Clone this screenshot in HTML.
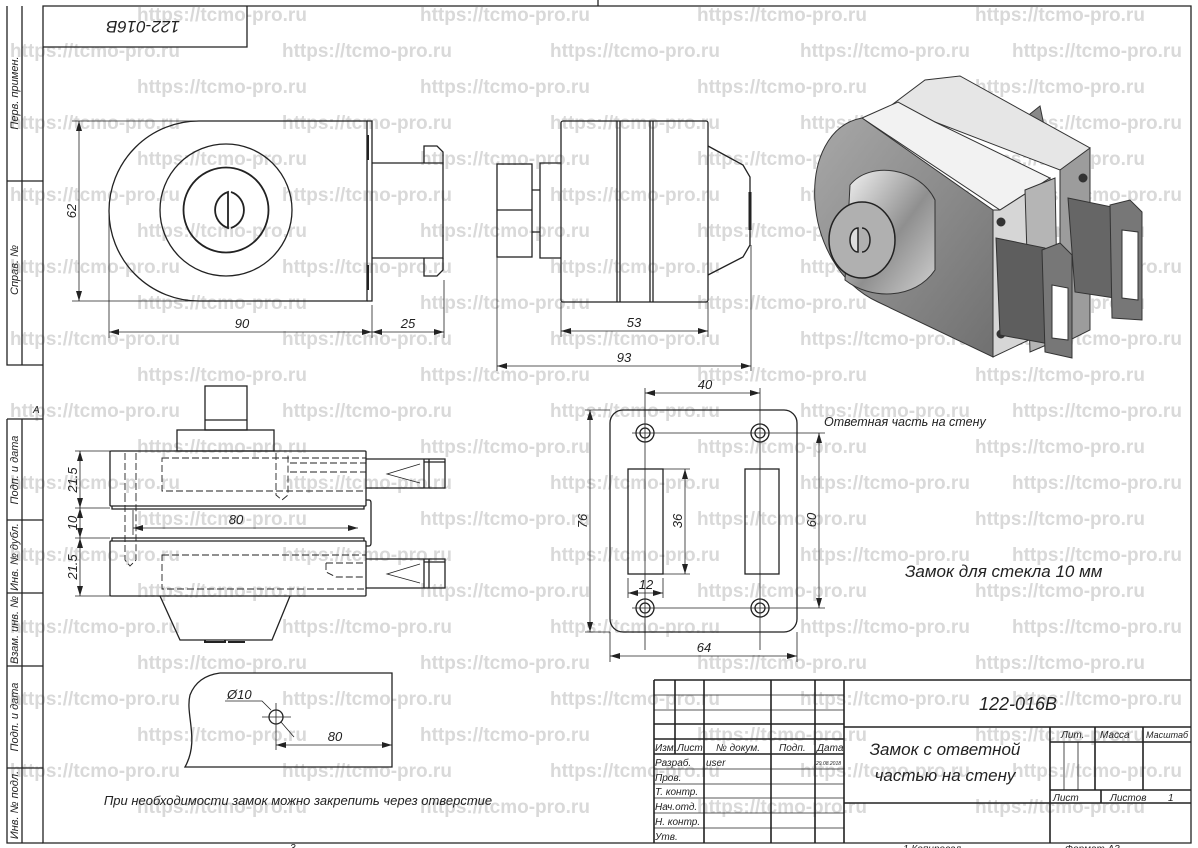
<!DOCTYPE html>
<html><head><meta charset="utf-8"><style>
html,body{margin:0;padding:0;background:#fff;}
svg{display:block;}
.t{font-family:"Liberation Sans","DejaVu Sans",sans-serif;font-style:italic;fill:#222;}
.wm{font-family:"Liberation Sans",sans-serif;font-weight:bold;font-size:19px;fill:#d9d9d9;}
</style></head><body>
<svg width="1198" height="848" viewBox="0 0 1198 848" xmlns="http://www.w3.org/2000/svg">
<defs>
<marker id="a" viewBox="0 0 10 6" markerWidth="10" markerHeight="6" refX="10" refY="3" orient="auto-start-reverse" markerUnits="userSpaceOnUse"><path d="M0,0 L10,3 L0,6 z" fill="#222"/></marker>
<linearGradient id="cone" x1="0" y1="0" x2="1" y2="1"><stop offset="0" stop-color="#f4f4f4"/><stop offset="0.55" stop-color="#8f8f8f"/><stop offset="1" stop-color="#d0d0d0"/></linearGradient>
<linearGradient id="face" x1="0" y1="0" x2="1" y2="1"><stop offset="0" stop-color="#a8a8a8"/><stop offset="1" stop-color="#707070"/></linearGradient>
</defs>

<!-- watermarks -->
<g class="wm">
<g id="ev"><text x="137" y="21">https://tcmo-pro.ru</text><text x="420" y="21">https://tcmo-pro.ru</text><text x="697" y="21">https://tcmo-pro.ru</text><text x="975" y="21">https://tcmo-pro.ru</text></g>
<g id="od"><text x="10" y="57">https://tcmo-pro.ru</text><text x="282" y="57">https://tcmo-pro.ru</text><text x="550" y="57">https://tcmo-pro.ru</text><text x="800" y="57">https://tcmo-pro.ru</text><text x="1012" y="57">https://tcmo-pro.ru</text></g>
<use href="#ev" y="72"/><use href="#ev" y="144"/><use href="#ev" y="216"/><use href="#ev" y="288"/><use href="#ev" y="360"/><use href="#ev" y="432"/><use href="#ev" y="504"/><use href="#ev" y="576"/><use href="#ev" y="648"/><use href="#ev" y="720"/><use href="#ev" y="792"/>
<use href="#od" y="72"/><use href="#od" y="144"/><use href="#od" y="216"/><use href="#od" y="288"/><use href="#od" y="360"/><use href="#od" y="432"/><use href="#od" y="504"/><use href="#od" y="576"/><use href="#od" y="648"/><use href="#od" y="720"/>
</g>

<g fill="none" stroke="#222" stroke-width="1.3">
<path d="M43 6 H1191 V843 H43 Z"/>
<line x1="598" y1="0" x2="598" y2="6"/>
<path d="M7 6 V365 H43 M22 6 V365 M7 181 H43"/>
<path d="M7 419 V843 H43 M22 419 V843 M7 419 H43 M7 520 H43 M7 593 H43 M7 666 H43 M7 768 H43"/>
<path d="M43 47 H247 V6"/>
</g>
<g class="t" font-size="11">
<text transform="translate(18,93) rotate(-90)" text-anchor="middle">Перв. примен.</text>
<text transform="translate(18,270) rotate(-90)" text-anchor="middle">Справ. №</text>
<text transform="translate(18,470) rotate(-90)" text-anchor="middle">Подп. и дата</text>
<text transform="translate(18,557) rotate(-90)" text-anchor="middle">Инв. № дубл.</text>
<text transform="translate(18,630) rotate(-90)" text-anchor="middle">Взам. инв. №</text>
<text transform="translate(18,717) rotate(-90)" text-anchor="middle">Подп. и дата</text>
<text transform="translate(18,805) rotate(-90)" text-anchor="middle">Инв. № подл.</text>
<text x="33" y="413" font-size="10">А</text>
</g>
<text class="t" font-size="17" transform="translate(143,21) rotate(180)" text-anchor="middle">122-016B</text>

<!-- FRONT VIEW -->
<g fill="none" stroke="#222" stroke-width="1.3">
<path d="M199 121 H367 V301 H199 A90 90 0 0 1 199 121 Z"/>
<path d="M367 121 H372 V301 H367"/>
<path d="M368 135 V160 M368 265 V290" stroke-width="2"/>
<path d="M372 163 H443 V258 H372"/>
<path d="M424 163 V146 H437 L443 152 V163 M424 258 V276 H437 L443 270 V258"/>
<circle cx="226" cy="210" r="66"/>
<circle cx="226" cy="210" r="42.5" stroke-width="1.8"/>
<path d="M228 192 A19 19 0 0 0 228 228 Z" stroke-width="1.8"/>
<path d="M231 192 A19 19 0 0 1 231 228" stroke-width="1.8"/>
</g>
<g fill="none" stroke="#222" stroke-width="0.8">
<path d="M72 121 H199 M72 301 H199 M109 215 V338 M372 305 V338 M444 280 V338"/>
<line x1="79" y1="121" x2="79" y2="301" marker-start="url(#a)" marker-end="url(#a)"/>
<line x1="109" y1="332" x2="372" y2="332" marker-start="url(#a)" marker-end="url(#a)"/>
<line x1="372" y1="332" x2="444" y2="332" marker-start="url(#a)" marker-end="url(#a)"/>
</g>
<g class="t" font-size="13">
<text transform="translate(76,211) rotate(-90)" text-anchor="middle">62</text>
<text x="242" y="328" text-anchor="middle">90</text>
<text x="408" y="328" text-anchor="middle">25</text>
</g>

<!-- SIDE VIEW -->
<g fill="none" stroke="#222" stroke-width="1.3">
<rect x="561" y="121" width="147" height="181" rx="2"/>
<path d="M617 121 V302 M620 121 V302 M650 121 V302 M653 121 V302"/>
<path d="M561 163 H540 V258 H561"/>
<rect x="497" y="164" width="35" height="93"/>
<path d="M497 210 H532 M532 190 H540 M532 232 H540"/>
<path d="M708 146 L743 165 L750 177 V245 L743 257 L708 275"/>
<path d="M750 192 V230" stroke-width="3"/>
</g>
<g fill="none" stroke="#222" stroke-width="0.8">
<path d="M561 302 V337 M708 302 V337 M497 257 V371 M751 245 V371"/>
<line x1="561" y1="331" x2="708" y2="331" marker-start="url(#a)" marker-end="url(#a)"/>
<line x1="497" y1="366" x2="751" y2="366" marker-start="url(#a)" marker-end="url(#a)"/>
</g>
<g class="t" font-size="13">
<text x="634" y="327" text-anchor="middle">53</text>
<text x="624" y="362" text-anchor="middle">93</text>
</g>

<!-- 3D VIEW -->
<g stroke="#333" stroke-width="1">
<polygon points="1025,118 1040,106 1047,140 1030,150" fill="#888"/>
<polygon points="885,110 925,80 960,76 1090,148 1085,160 1060,170 935,122" fill="#e6e6e6"/>
<polygon points="1060,170 1090,148 1090,330 1060,345" fill="#9c9c9c"/>
<polygon points="862,118 898,102 935,122 1050,178 1000,210" fill="#f2f2f2"/>
<path d="M862 118 C795 130 798 265 878 302 L993 357 V210 Z" fill="url(#face)"/>
<polygon points="993,210 1000,210 1050,178 1050,330 993,357" fill="#d6d6d6"/>
<polygon points="1025,190 1055,178 1058,340 1030,352" fill="#b5b5b5"/>
<path d="M850 185 C870 160 920 168 935 200 L935 270 C915 300 870 300 845 280 Z" fill="url(#cone)"/>
<ellipse cx="862" cy="240" rx="33" ry="38" fill="#b0b0b0" stroke="#222" stroke-width="1.5"/>
<path d="M858 228 A8 12 0 0 0 858 252 Z" fill="#ddd" stroke="#222" stroke-width="1.5"/>
<path d="M862 228 A8 12 0 0 1 862 252" fill="none" stroke="#222" stroke-width="1.5"/>
<circle cx="1001" cy="222" r="4" fill="#333"/>
<circle cx="1001" cy="334" r="4" fill="#333"/>
<circle cx="1083" cy="178" r="4" fill="#333"/>
<polygon points="1068,198 1112,207 1128,300 1075,292" fill="#666"/>
<polygon points="1110,205 1130,200 1142,212 1142,320 1112,318" fill="#777"/>
<polygon points="1122,230 1138,232 1138,300 1122,298" fill="#fff"/>
<polygon points="996,238 1045,248 1055,345 1000,335" fill="#5e5e5e"/>
<polygon points="1042,250 1060,243 1072,255 1072,358 1045,352" fill="#777"/>
<polygon points="1052,285 1068,288 1068,340 1052,338" fill="#fff"/>
</g>

<!-- BOTTOM-LEFT VIEW -->
<g fill="none" stroke="#222" stroke-width="1.3">
<rect x="205" y="386" width="42" height="44"/>
<path d="M205 420 H247"/>
<rect x="177" y="430" width="97" height="21"/>
<rect x="110" y="451" width="256" height="55" rx="1"/>
<path d="M112 506 V509 H364 V506"/>
<rect x="110" y="541" width="256" height="55" rx="1"/>
<path d="M112 541 V538 H364 V541"/>
<path d="M366 500 H369 Q371 500 371 503 V543 Q371 546 369 546 H366"/>
<path d="M160 596 L180 640 H272 L290 596"/>
<path d="M205 640 V642 H225 V640 M228 642 H245" stroke-width="2"/>
<path d="M366 459 H445 V488 H366 M424 459 V488 M429 459 V488 M424 462 H445"/>
<path d="M366 559 H445 V588 H366 M424 559 V588 M429 559 V588 M424 562 H445"/>
<path d="M420 464 L387 474 L420 483 M420 564 L387 574 L420 583" stroke-width="0.8"/>
</g>
<g fill="none" stroke="#222" stroke-width="0.9" stroke-dasharray="7,3">
<rect x="162" y="458" width="204" height="33"/>
<rect x="162" y="555" width="204" height="34"/>
<path d="M125 453 V495 M136 453 V495 M125 495 V560 L130 566 L136 560 V495"/>
<path d="M276 453 V495 L282 500 L288 495 V453 M290 463 H366 M290 472 H366"/>
<path d="M326 563 V572 L336 577 H366 M326 563 H366"/>
</g>
<g fill="none" stroke="#222" stroke-width="0.8">
<path d="M75 451 H110 M75 508 H110 M75 538 H110 M75 596 H110 M133 510 V535"/>
<line x1="80" y1="451" x2="80" y2="508" marker-start="url(#a)" marker-end="url(#a)"/>
<line x1="80" y1="508" x2="80" y2="538" marker-start="url(#a)" marker-end="url(#a)"/>
<line x1="80" y1="538" x2="80" y2="596" marker-start="url(#a)" marker-end="url(#a)"/>
<line x1="133" y1="528" x2="358" y2="528" marker-start="url(#a)" marker-end="url(#a)"/>
</g>
<g class="t" font-size="13">
<text transform="translate(77,480) rotate(-90)" text-anchor="middle">21.5</text>
<text transform="translate(77,523) rotate(-90)" text-anchor="middle">10</text>
<text transform="translate(77,567) rotate(-90)" text-anchor="middle">21.5</text>
<text x="236" y="524" text-anchor="middle">80</text>
</g>

<!-- DETAIL -->
<g fill="none" stroke="#222" stroke-width="1.3">
<path d="M220 673 H392 V767 H185 C200 740 185 715 190 695 C195 682 205 675 220 673"/>
<circle cx="276" cy="717" r="7"/>
</g>
<g fill="none" stroke="#222" stroke-width="0.8">
<path d="M262 717 H291 M276 703 V750 M225 701 H262 L271 710 M281 722 L294 737"/>
<line x1="276" y1="745" x2="392" y2="745" marker-start="url(#a)" marker-end="url(#a)"/>
</g>
<g class="t" font-size="13">
<text x="227" y="699">Ø10</text>
<text x="335" y="741" text-anchor="middle">80</text>
<text x="298" y="805" text-anchor="middle">При необходимости замок можно закрепить через отверстие</text>
</g>

<!-- PLATE -->
<g fill="none" stroke="#222" stroke-width="1.3">
<rect x="610" y="410" width="187" height="222" rx="13"/>
<rect x="628" y="469" width="35" height="105"/>
<rect x="745" y="469" width="34" height="105"/>
<circle cx="645" cy="433" r="9"/><circle cx="645" cy="433" r="5"/>
<circle cx="760" cy="433" r="9"/><circle cx="760" cy="433" r="5"/>
<circle cx="645" cy="608" r="9"/><circle cx="645" cy="608" r="5"/>
<circle cx="760" cy="608" r="9"/><circle cx="760" cy="608" r="5"/>
</g>
<g fill="none" stroke="#222" stroke-width="0.8">
<path d="M632 433 H825 M632 608 H825 M645 388 V650 M760 388 V650 M585 410 H610 M585 632 H610 M663 469 H690 M663 574 H690 M628 578 V598 M663 578 V598 M610 632 V662 M797 632 V662"/>
<line x1="645" y1="393" x2="760" y2="393" marker-start="url(#a)" marker-end="url(#a)"/>
<line x1="590" y1="410" x2="590" y2="632" marker-start="url(#a)" marker-end="url(#a)"/>
<line x1="819" y1="433" x2="819" y2="608" marker-start="url(#a)" marker-end="url(#a)"/>
<line x1="685" y1="469" x2="685" y2="574" marker-start="url(#a)" marker-end="url(#a)"/>
<line x1="628" y1="593" x2="663" y2="593" marker-start="url(#a)" marker-end="url(#a)"/>
<line x1="610" y1="656" x2="797" y2="656" marker-start="url(#a)" marker-end="url(#a)"/>
</g>
<g class="t" font-size="13">
<text x="705" y="389" text-anchor="middle">40</text>
<text transform="translate(587,521) rotate(-90)" text-anchor="middle">76</text>
<text transform="translate(816,520) rotate(-90)" text-anchor="middle">60</text>
<text transform="translate(682,521) rotate(-90)" text-anchor="middle">36</text>
<text x="646" y="589" text-anchor="middle">12</text>
<text x="704" y="652" text-anchor="middle">64</text>
<text x="824" y="426" font-size="12.5">Ответная часть на стену</text>
<text x="905" y="577" font-size="17">Замок для стекла 10 мм</text>
</g>

<!-- TITLE BLOCK -->
<g fill="none" stroke="#222" stroke-width="1.6">
<path d="M654 680 H1191 M654 680 V843 M844 680 V843 M1050 727 V843 M844 727 H1191 M844 803 H1191 M1050 742 H1191 M1050 790 H1191 M1095 727 V790 M1143 727 V790 M1101 790 V803"/>
<path d="M654 724 H844 M654 739 H844 M675 680 V754 M704 680 V843 M771 680 V843 M815 680 V843"/>
</g>
<g fill="none" stroke="#222" stroke-width="0.8">
<path d="M654 695 H844 M654 710 H844 M654 769 H844 M654 784 H844 M654 798 H844 M654 813 H844 M654 828 H844 M1064 742 V790 M1078 742 V790"/>
<path d="M654 754 H844" stroke-width="1.6"/>
</g>
<g class="t" font-size="10">
<text x="655" y="751">Изм.</text><text x="677" y="751">Лист</text><text x="716" y="751">№ докум.</text><text x="779" y="751">Подп.</text><text x="817" y="751">Дата</text>
<text x="655" y="766">Разраб.</text><text x="706" y="766">user</text><text x="816" y="765" font-size="5">29.08.2018</text>
<text x="655" y="781">Пров.</text><text x="655" y="795">Т. контр.</text><text x="655" y="810">Нач.отд.</text><text x="655" y="825">Н. контр.</text><text x="655" y="840">Утв.</text>
<text x="1061" y="738">Лит.</text><text x="1100" y="738">Масса</text><text x="1146" y="738" font-size="9">Масштаб</text>
<text x="1053" y="801">Лист</text><text x="1110" y="801">Листов</text><text x="1168" y="801">1</text>
</g>
<g class="t">
<text x="1018" y="710" font-size="18" text-anchor="middle">122-016В</text>
<text x="945" y="755" font-size="17" text-anchor="middle">Замок с ответной</text>
<text x="945" y="781" font-size="17" text-anchor="middle">частью на стену</text>
<text x="290" y="851" font-size="10">3</text>
<text x="903" y="852" font-size="10">1      Копировал</text>
<text x="1065" y="852" font-size="10">Формат А3</text>
</g>
</svg>
</body></html>
